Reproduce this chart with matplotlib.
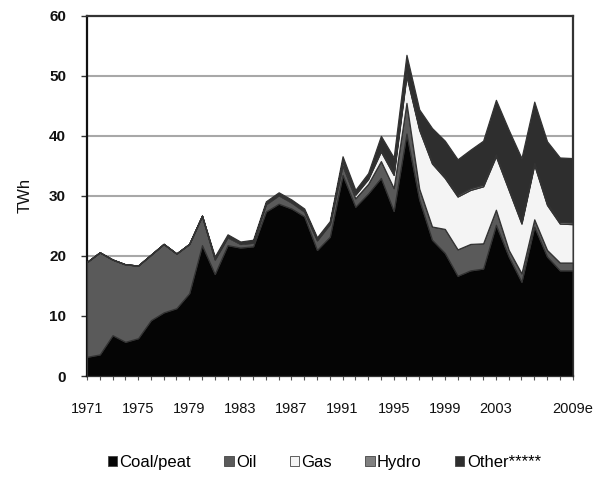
import numpy as np
import matplotlib
matplotlib.use("Agg")
import matplotlib.pyplot as plt
from matplotlib.patches import Patch

# Condensing power generation by fuel, TWh
years = list(range(1971, 2010))
coal = [3.2, 3.6, 6.8, 5.7, 6.3, 9.3, 10.6, 11.3, 13.8, 21.8,
        17.0, 21.8, 21.4, 21.6, 27.4, 28.7, 27.9, 26.6, 21.0, 23.2,
        33.5, 28.2, 30.4, 33.0, 27.5, 40.4, 29.4, 22.7, 20.5, 16.7,
        17.6, 17.9, 25.2, 19.9, 15.7, 24.9, 19.9, 17.6, 17.6]
oil = [15.8, 17.0, 12.6, 12.9, 12.1, 10.9, 11.4, 9.1, 8.2, 4.9,
       2.4, 1.3, 0.6, 0.6, 1.2, 1.4, 1.0, 0.8, 1.6, 2.1,
       1.6, 1.4, 1.6, 2.8, 3.8, 5.1, 1.8, 2.2, 4.0, 4.4,
       4.4, 4.2, 2.5, 1.1, 1.4, 1.2, 1.1, 1.3, 1.3]
gas = [0, 0, 0, 0, 0, 0, 0, 0, 0, 0,
       0.2, 0.2, 0.2, 0.2, 0.2, 0.2, 0.2, 0.2, 0.2, 0.2,
       0.6, 0.6, 0.8, 1.6, 2.2, 4.5, 9.8, 10.5, 8.5, 8.8,
       9.0, 9.5, 8.9, 10.0, 8.3, 9.1, 7.5, 6.5, 6.4]
hydro = [0, 0, 0, 0, 0, 0, 0, 0, 0, 0,
         0, 0, 0, 0, 0, 0, 0, 0, 0, 0,
         0.2, 0.2, 0.2, 0.3, 0.4, 0.4, 0.3, 0.3, 0.3, 0.3,
         0.3, 0.3, 0.3, 0.3, 0.3, 0.3, 0.3, 0.3, 0.3]
other = [0, 0, 0, 0, 0, 0, 0, 0, 0, 0,
         0.3, 0.3, 0.2, 0.3, 0.3, 0.3, 0.3, 0.3, 0.3, 0.3,
         0.7, 0.6, 0.8, 2.3, 2.5, 3.1, 3.1, 5.6, 5.9, 5.9,
         6.4, 7.3, 9.1, 9.7, 10.6, 10.2, 10.3, 10.7, 10.7]

series_names = ["Coal/peat", "Oil", "Gas", "Hydro", "Other*****"]
colors = ["#050505", "#5a5a5a", "#f4f4f4", "#808080", "#2e2e2e"]
label_years = {1971: "1971", 1975: "1975", 1979: "1979", 1983: "1983",
               1987: "1987", 1991: "1991", 1995: "1995", 1999: "1999",
               2003: "2003", 2009: "2009e"}

font = ["Liberation Sans", "DejaVu Sans"]

fig = plt.figure(figsize=(6.04, 4.79), dpi=100)
ax = fig.add_axes([0.144, 0.215, 0.804, 0.752])

ax.stackplot(years, coal, oil, gas, hydro, other, colors=colors,
             edgecolor="#333333", linewidth=0.9, zorder=3)

ax.set_xlim(1971, 2009)
ax.set_ylim(0, 60)

# horizontal grid
for v in range(10, 60, 10):
    ax.axhline(v, color="#a8a8a8", linewidth=1.5, zorder=1)

ax.set_yticks(range(0, 61, 10))
ax.set_yticklabels([str(v) for v in range(0, 61, 10)], fontsize=11,
                   fontweight="bold", family=font, color="#111111")
ax.tick_params(axis="y", direction="out", length=4, width=1, pad=11, color="#333333")

ax.set_xticks(years)
ax.set_xticklabels([label_years.get(y, "") for y in years], fontsize=10.5,
                   family=font, color="#111111")
ax.tick_params(axis="x", direction="out", length=3, width=0.8, pad=16, color="#555555")

ax.set_ylabel("TWh", fontsize=12, family=font, color="#111111")
ax.yaxis.set_label_coords(-0.112, 0.5)

for side in ["left", "bottom"]:
    ax.spines[side].set_color("#111111")
    ax.spines[side].set_linewidth(1.6)
for side in ["top", "right"]:
    ax.spines[side].set_color("#333333")
    ax.spines[side].set_linewidth(1.6)

handles = [Patch(facecolor=c, edgecolor="#444444", linewidth=0.6) for c in colors]
fig.legend(handles, series_names, loc="center", bbox_to_anchor=(0.537, 0.035),
           ncol=5, frameon=False, handlelength=0.55, handleheight=0.55,
           handletextpad=0.15, columnspacing=2.0,
           prop={"family": font, "size": 12})

fig.savefig("out.png", dpi=100)
